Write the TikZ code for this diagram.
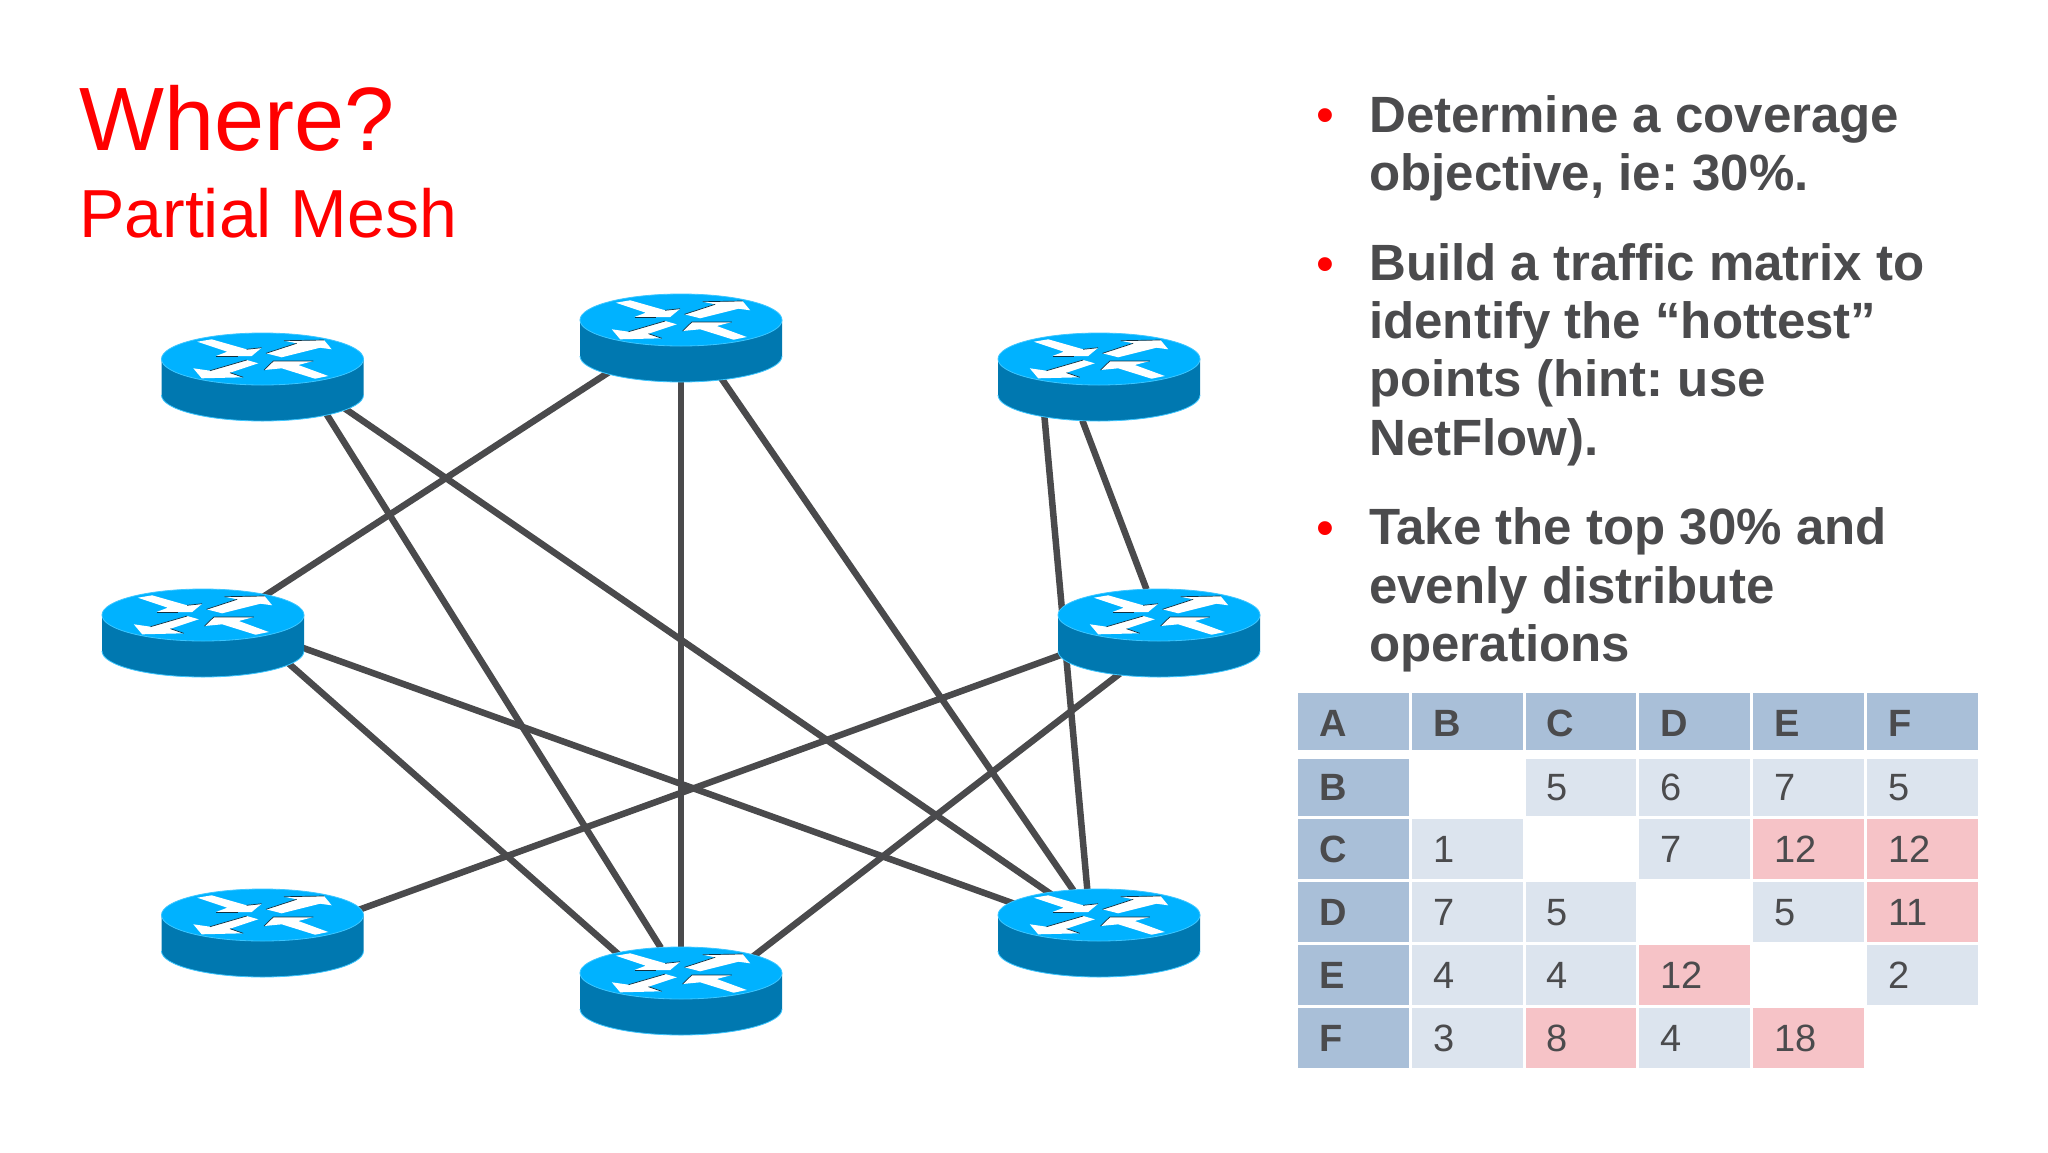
\documentclass[tikz,border=0pt]{standalone}
\usepackage{fontspec}
\setmainfont[Ligatures=NoCommon]{Liberation Sans}
\usetikzlibrary{shapes.geometric}

\definecolor{linkgray}{HTML}{4A4A4C}
\definecolor{texgray}{HTML}{4B4B4D}
\definecolor{routertop}{HTML}{00B2FF}
\definecolor{routerside}{HTML}{0078B0}
\definecolor{routeredge}{HTML}{3CC6FF}
\definecolor{routershade}{HTML}{12303F}
\definecolor{headblue}{HTML}{A9BFD8}
\definecolor{liteblue}{HTML}{DCE4EE}
\definecolor{hotred}{HTML}{F6C3C7}

\tikzset{
  router/.style={shape=ellipse,minimum width=202,minimum height=88,inner sep=0,outer sep=0},
  link/.style={color=linkgray,line width=6.5},
  titlebig/.style={anchor=base west,inner sep=0,color=red,font=\fontsize{90}{90}\selectfont},
  titlesub/.style={anchor=base west,inner sep=0,color=red,font=\fontsize{68}{68}\selectfont},
  point/.style={anchor=north west,inner sep=0,align=left,color=texgray,font=\fontsize{51}{58.4}\selectfont\bfseries\frenchspacing},
  dot/.style={anchor=base,inner sep=0,color=red,font=\fontsize{51}{51}\selectfont},
  cell/.style={inner xsep=21.3,inner ysep=0,outer sep=0,minimum width=110.8,text width=68.2,align=left,
    text height=27,text depth=0,color=texgray,font=\fontsize{38}{38}\selectfont},
  head/.style={fill=headblue,font=\fontsize{38}{38}\selectfont\bfseries},
  toprow/.style={head,text height=31},
  lite/.style={fill=liteblue},
  hot/.style={fill=hotred},
  arrowshade/.style={draw=routershade,line width=0.7},
  routerbody/.pic={
    %kucica
    \path[fill=routerside] (-101,-18) -- (-101,18) arc[start angle=180,end angle=0,x radius=101,y radius=26] -- (101,-18) -- cycle;
    \draw[color=routeredge,line width=0.8] (-101,18) arc[start angle=180,end angle=0,x radius=101,y radius=26];
    \draw[fill=routertop,draw=routeredge,line width=0.8] (0,-18) ellipse[x radius=101,y radius=26];
    %strelice
    \path[fill=white] (-65.2,-35.3) -- (-50.8,-37.7) -- (-15.8,-27.7) -- (-0.8,-29.3) -- (-10.8,-21) -- (-46.5,-21) -- (-35.2,-25.3) -- cycle;
    \path[fill=white] (3.5,-23.7) -- (34.2,-33.7) -- (21.5,-36.3) -- (61.5,-37) -- (69.2,-27.7) -- (57.5,-29.3) -- (19.2,-19.7) -- cycle;
    \path[fill=white] (-69.2,-8.7) -- (-52.5,-6.3) -- (-15.8,-17) -- (-4.2,-13.7) -- (-32.5,-4.3) -- (-19.2,0.3) -- (-60.8,1.3) -- cycle;
    \path[fill=white] (1.5,-7) -- (10.8,-16) -- (50.8,-16) -- (35.8,-12) -- (65.8,-1) -- (52.5,1.7) -- (19.2,-8.7) -- cycle;
    %sjene
    \draw[arrowshade] (-46.5,-21) -- (-25,-21);
    \draw[arrowshade] (-15.8,-27.7) -- (-0.8,-29.3);
    \draw[arrowshade] (3.5,-23.7) -- (34.2,-33.7);
    \draw[arrowshade] (21.5,-36.3) -- (61.5,-37);
    \draw[arrowshade] (-52.5,-6.3) -- (-15.8,-17);
    \draw[arrowshade] (-32.5,-4.3) -- (-19.2,0.3);
    \draw[arrowshade] (1.5,-7) -- (10.8,-16) -- (50.8,-16);
  }
}

\begin{document}
\begin{tikzpicture}[x=1pt,y=-1pt]
       \useasboundingbox (0,0) rectangle (2048,1152);
       \fill[white] (0,0) rectangle (2048,1152);

       %naslov
       \node[titlebig] (where) at (79,150) {Where?};
       \node[titlesub] (mesh) at (79,237.5) {Partial Mesh};

       %ruteri
       \node[router] (r1) at (262.5,377) {};
       \node[router] (r2) at (681,338) {};
       \node[router] (r3) at (1099,377) {};
       \node[router] (r4) at (203,633) {};
       \node[router] (r5) at (1159,633) {};
       \node[router] (r6) at (262.5,933) {};
       \node[router] (r7) at (681,991) {};
       \node[router] (r8) at (1099,933) {};

       %veze
       \draw[link] (r1.-29.1) -- (r7.115.4);
       \draw[link] (r1.-20) -- (r8.141);
       \draw[link] (r2.205.9) -- (r4.31.5);
       \draw[link] (r2.south) -- (r7.north);
       \draw[link] (r2.-45.6) -- (r8.121.4);
       \draw[link] (r3.249) -- (r5.106);
       \draw[link] (r3.214.2) -- (r8.105.3);
       \draw[link] (r4.-8.5) -- (r8.161.5);
       \draw[link] (r4.-18.8) -- (r7.150.9);
       \draw[link] (r5.192.9) -- (r6.13.4);
       \draw[link] (r5.226.1) -- (r7.25.3);

       \foreach \n in {r1,r2,r3,r4,r5,r6,r7,r8}
           \pic at (\n) {routerbody};

       %tekst desno
       \node[dot] (dot1) at (1325,132) {•};
       \node[dot] (dot2) at (1325,281) {•};
       \node[dot] (dot3) at (1325,545) {•};
       \node[point] (p1) at (1369,95) {Determine a coverage\\objective, ie: 30\%.};
       \node[point] (p2) at (1369,243) {Build a traffic matrix to\\identify the “hottest”\\points (hint: use\\NetFlow).};
       \node[point] (p3) at (1369,507.5) {Take the top 30\% and\\evenly distribute\\operations};

       %tablica
       \foreach \r/\y/\h/\cells in {
           0/721.3/57.3/{1/A/toprow,2/B/toprow,3/C/toprow,4/D/toprow,5/E/toprow,6/F/toprow},
           1/787.3/57.3/{1/B/head,3/5/lite,4/6/lite,5/7/lite,6/5/lite},
           2/849.2/60/{1/C/head,2/1/lite,4/7/lite,5/12/hot,6/12/hot},
           3/912/60/{1/D/head,2/7/lite,3/5/lite,5/5/lite,6/11/hot},
           4/975.2/60/{1/E/head,2/4/lite,3/4/lite,4/12/hot,6/2/lite},
           5/1038.3/60/{1/F/head,2/3/lite,3/8/hot,4/4/lite,5/18/hot}}
           \foreach \c/\v/\s in \cells
               \node[cell,\s,minimum height=\h] (cell\r\c) at ({1353.6+(\c-1)*113.7},\y) {\v};
\end{tikzpicture}
\end{document}
